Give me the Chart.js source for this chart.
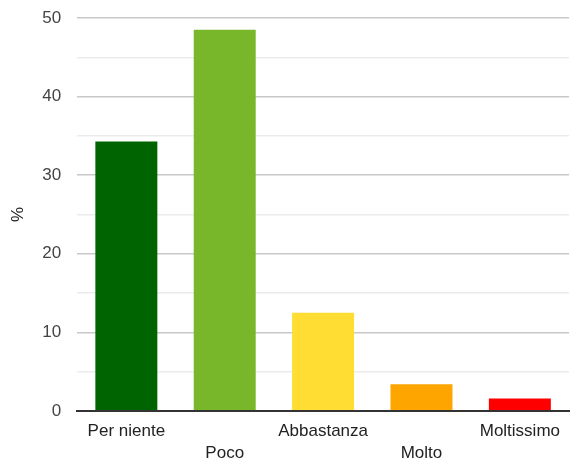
<!DOCTYPE html>
<html>
<head>
<meta charset="utf-8">
<script src="https://cdn.jsdelivr.net/npm/chart.js@4"></script>
<style>
  html, body { margin: 0; padding: 0; background: #fff; }
  #wrap { width: 570px; height: 463px; }
</style>
</head>
<body>
<div id="wrap"><canvas id="chart"></canvas></div>
<script>
// categories and values (%)
const categories = ['Per niente', 'Poco', 'Abbastanza', 'Molto', 'Moltissimo'];
const percentages = [34.3, 48.5, 12.5, 3.4, 1.6];
const barColors = ['#006400', '#78b72a', '#ffdd33', '#ffa500', '#ff0000'];
const yTicks = [0, 10, 20, 30, 40, 50];

// every second label goes on a lower line
const xLabels = categories.map((c, i) => (i % 2 === 1 ? ['', c] : c));

const labelFont = { family: 'Liberation Sans, Arial, sans-serif', size: 17, lineHeight: 1.25 };

new Chart(document.getElementById('chart'), {
    type: 'bar',
    data: {
        labels: xLabels,
        datasets: [{
            label: '%',
            data: percentages,
            backgroundColor: barColors,
            borderWidth: 0,
            barPercentage: 0.63,
            categoryPercentage: 1
        }]
    },
    options: {
        responsive: true,
        maintainAspectRatio: false,
        animation: false,
        layout: { padding: { top: 18, right: 0, bottom: 0, left: 8 } },
        plugins: {
            legend: { display: false },
            tooltip: { enabled: false }
        },
        scales: {
            x: {
                grid: { display: false, drawTicks: false },
                border: { display: true, color: '#333', width: 2 },
                ticks: {
                    color: '#222',
                    font: labelFont,
                    maxRotation: 0,
                    autoSkip: false,
                    padding: 10
                },
                afterFit: (scale) => { scale.height = 52; }
            },
            y: {
                min: 0,
                max: 50,
                border: { display: false },
                grid: {
                    // invisible tick marks make the gap between labels and plot
                    drawTicks: true,
                    tickLength: 16,
                    tickColor: 'rgba(0,0,0,0)',
                    color: (ctx) => {
                        const v = ctx.tick ? ctx.tick.value : 0;
                        if (v === 0) return '#333';
                        return yTicks.includes(v) ? '#c8c8c8' : '#ebebeb';
                    },
                    lineWidth: (ctx) => (ctx.tick && ctx.tick.value === 0 ? 2 : 1.5)
                },
                ticks: {
                    stepSize: 5,
                    color: '#444',
                    padding: 0,
                    font: labelFont,
                    callback: (v) => (yTicks.includes(v) ? v : '')
                },
                title: {
                    display: true,
                    text: '%',
                    color: '#222',
                    font: labelFont,
                    padding: { top: 0, bottom: 13 }
                }
            }
        }
    }
});
</script>
</body>
</html>
